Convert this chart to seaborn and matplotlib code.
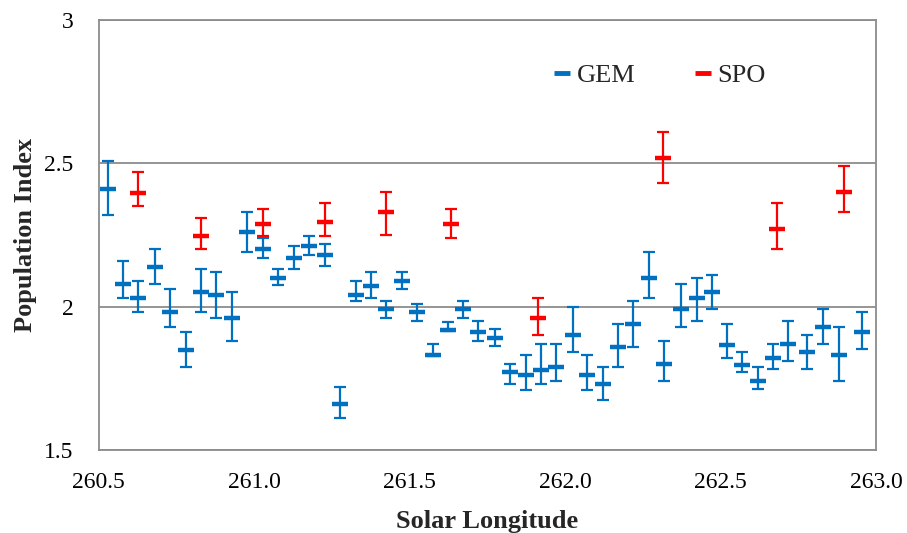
import numpy as np
import pandas as pd
import matplotlib
matplotlib.use("Agg")
import matplotlib.pyplot as plt
from matplotlib.lines import Line2D
import seaborn as sns

# ---- data ----
gem_x = [260.530, 260.580, 260.628, 260.682, 260.730, 260.780, 260.829, 260.878, 260.929, 260.976,
         261.028, 261.078, 261.129, 261.178, 261.228, 261.277, 261.328, 261.376, 261.424, 261.476,
         261.523, 261.575, 261.623, 261.673, 261.720, 261.775, 261.823, 261.875, 261.923, 261.971,
         262.025, 262.070, 262.123, 262.170, 262.220, 262.271, 262.318, 262.372, 262.423, 262.472,
         262.520, 262.570, 262.620, 262.670, 262.718, 262.779, 262.831, 262.881, 262.956]
gem_y = [2.410, 2.079, 2.029, 2.140, 1.980, 1.850, 2.050, 2.039, 1.959, 2.260,
         2.201, 2.100, 2.170, 2.211, 2.179, 1.659, 2.039, 2.071, 1.992, 2.091,
         1.981, 1.832, 1.920, 1.992, 1.911, 1.890, 1.771, 1.760, 1.780, 1.789,
         1.901, 1.761, 1.729, 1.858, 1.940, 2.100, 1.800, 1.992, 2.029, 2.050,
         1.868, 1.798, 1.740, 1.820, 1.870, 1.841, 1.929, 1.832, 1.912]
gem_high = [2.508, 2.160, 2.091, 2.202, 2.063, 1.912, 2.132, 2.121, 2.051, 2.331,
            2.241, 2.132, 2.210, 2.248, 2.218, 1.720, 2.091, 2.121, 2.019, 2.121,
            2.009, 1.870, 1.948, 2.019, 1.949, 1.922, 1.800, 1.833, 1.871, 1.871,
            2.000, 1.832, 1.790, 1.941, 2.021, 2.191, 1.880, 2.079, 2.100, 2.111,
            1.940, 1.842, 1.790, 1.870, 1.951, 1.902, 1.992, 1.929, 1.981]
gem_low = [2.320, 2.031, 1.981, 2.079, 1.929, 1.790, 1.981, 1.961, 1.880, 2.192,
           2.170, 2.074, 2.132, 2.179, 2.142, 1.612, 2.020, 2.031, 1.961, 2.063,
           1.950, 1.828, 1.916, 1.961, 1.879, 1.862, 1.731, 1.711, 1.731, 1.742,
           1.842, 1.711, 1.674, 1.790, 1.860, 2.031, 1.742, 1.929, 1.951, 1.992,
           1.821, 1.772, 1.713, 1.783, 1.809, 1.783, 1.870, 1.742, 1.853]

spo_x = [260.628, 260.829, 261.028, 261.228, 261.424, 261.633, 261.914, 262.314, 262.681, 262.898]
spo_y = [2.398, 2.248, 2.289, 2.297, 2.329, 2.288, 1.959, 2.518, 2.271, 2.400]
spo_high = [2.469, 2.309, 2.340, 2.363, 2.400, 2.341, 2.031, 2.610, 2.362, 2.491]
spo_low = [2.352, 2.201, 2.248, 2.248, 2.250, 2.239, 1.902, 2.432, 2.201, 2.330]

x_ticks = [260.5, 261.0, 261.5, 262.0, 262.5, 263.0]
y_ticks = [1.5, 2.0, 2.5, 3.0]
y_tick_labels = ["1.5", "2", "2.5", "3"]

gem_color = "#0070C0"
spo_color = "#FF0000"

sns.set_style("white")
plt.rcParams['font.family'] = ['Liberation Serif', 'DejaVu Serif']

fig = plt.figure(figsize=(9.07, 5.33), dpi=100)
ax = fig.add_axes([98.5/907, 1-450/533, (876-98.5)/907, (450-20)/533])

df_gem = pd.DataFrame({"x": gem_x, "y": gem_y, "lo": gem_low, "hi": gem_high})
df_spo = pd.DataFrame({"x": spo_x, "y": spo_y, "lo": spo_low, "hi": spo_high})

for df, col in [(df_gem, gem_color), (df_spo, spo_color)]:
    ax.errorbar(df["x"], df["y"], yerr=[df["y"] - df["lo"], df["hi"] - df["y"]],
                fmt='none', ecolor=col, elinewidth=1.6, capsize=4.3, capthick=1.6, zorder=3)
    sns.scatterplot(data=df, x="x", y="y", marker="_", s=120, linewidth=3.2,
                    color=col, ax=ax, zorder=4, legend=False)

ax.set_xlim(260.5, 263.0)
ax.set_ylim(1.5, 3.0)
ax.set_xticks(x_ticks)
ax.set_xticklabels([f"{t:.1f}" for t in x_ticks])
ax.set_yticks(y_ticks)
ax.set_yticklabels(y_tick_labels)
ax.yaxis.grid(True, color="#8c8c8c", linewidth=1.3)
ax.xaxis.grid(False)
for s in ax.spines.values():
    s.set_visible(True)
    s.set_color("#8c8c8c")
    s.set_linewidth(1.3)
ax.tick_params(axis='both', direction='out', length=6, width=1.3, color="#8c8c8c",
               labelsize=17, labelcolor="black")
ax.tick_params(axis='x', pad=10)
ax.tick_params(axis='y', pad=12)

ax.set_xlabel("Solar Longitude", fontsize=19, fontweight='bold', labelpad=12)
ax.set_ylabel("Population Index", fontsize=19, fontweight='bold', labelpad=5)

handles = [Line2D([], [], color=gem_color, marker='_', linestyle='none', markersize=11, mew=3.5),
           Line2D([], [], color=spo_color, marker='_', linestyle='none', markersize=11, mew=3.5)]
ax.legend(handles, ["GEM", "SPO"], ncol=2, frameon=False, loc='center',
          bbox_to_anchor=(0.721, 0.872), fontsize=19, handlelength=0.7,
          handletextpad=0.2, columnspacing=2.2)

fig.savefig("out.png", dpi=100)
